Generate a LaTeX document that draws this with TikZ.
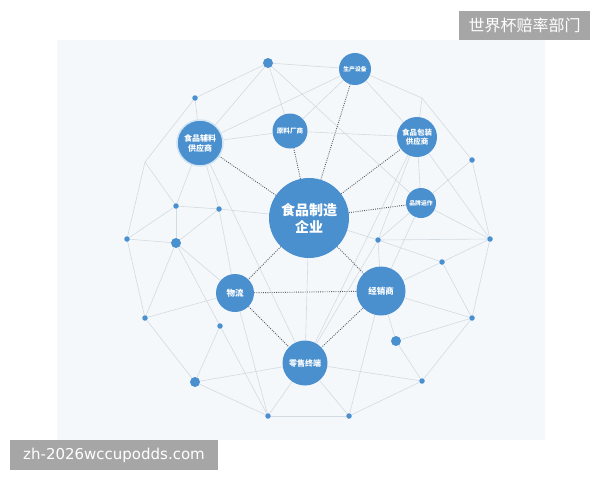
\documentclass[tikz,border=0pt]{standalone}
\usepackage{fontspec}
\newfontfamily\cjk{Noto Sans CJK SC}
\newfontfamily\latin{DejaVu Sans}
\usetikzlibrary{backgrounds}
\definecolor{nodeblue}{RGB}{74,144,207}
\definecolor{meshgray}{RGB}{210,218,226}
\definecolor{panelbg}{RGB}{245,248,251}
\definecolor{markgray}{RGB}{166,166,166}
\definecolor{dotline}{RGB}{85,90,98}
\pgfdeclarelayer{edges}
\pgfsetlayers{background,edges,main}
\begin{document}
\begin{tikzpicture}[x=1pt,y=-1pt,
  hub/.style={circle, fill=nodeblue, text=white, inner sep=0pt, align=center},
  dotsm/.style={circle, fill=nodeblue, inner sep=0pt, minimum size=5.5pt},
  dotbig/.style={circle, fill=nodeblue, inner sep=0pt, minimum size=10pt},
  mesh/.style={meshgray, line width=0.6pt},
  link/.style={dotline, line width=0.9pt, dash pattern=on 0.9pt off 1.3pt},
  tagbox/.style={fill=markgray, text=white, inner sep=0pt}]
\useasboundingbox (0,0) rectangle (600,480);
\begin{pgfonlayer}{background}
\fill[panelbg] (57,40) rectangle (545,440);
\end{pgfonlayer}
% main nodes
\node[hub, minimum size=80pt, font=\cjk\bfseries\fontsize{14}{17}\selectfont] (ent) at (309,218) {食品制造\\企业};
\node[hub, minimum size=46pt, draw=nodeblue!25, line width=1.5pt, font=\cjk\bfseries\fontsize{8}{10}\selectfont] (aux) at (200,143) {食品辅料\\供应商};
\node[hub, minimum size=35pt, font=\cjk\bfseries\fontsize{6.6}{8}\selectfont] (raw) at (290,131) {原料厂商};
\node[hub, minimum size=32pt, font=\cjk\bfseries\fontsize{5.8}{7}\selectfont] (equip) at (355,69) {生产设备};
\node[hub, minimum size=40pt, font=\cjk\bfseries\fontsize{7.5}{9.3}\selectfont] (pack) at (417,137) {食品包装\\供应商};
\node[hub, minimum size=30pt, font=\cjk\bfseries\fontsize{5.8}{7}\selectfont] (brand) at (421,203) {品牌运作};
\node[hub, minimum size=38pt, font=\cjk\bfseries\fontsize{8.5}{10}\selectfont] (logi) at (235,293) {物流};
\node[hub, minimum size=49pt, font=\cjk\bfseries\fontsize{8.5}{10}\selectfont] (dist) at (381,291) {经销商};
\node[hub, minimum size=45pt, font=\cjk\bfseries\fontsize{8}{10}\selectfont] (retail) at (305,363) {零售终端};
% small dots
\node[dotbig] (p1) at (268,63) {};
\node[dotsm] (p2) at (195,98) {};
\node[dotsm] (p3) at (176,206) {};
\node[dotsm] (p4) at (219,209) {};
\node[dotsm] (p5) at (127,239) {};
\node[dotbig] (p6) at (176,243) {};
\node[dotsm] (p7) at (378,240) {};
\node[dotsm] (p8) at (490,239) {};
\node[dotsm] (p9) at (472,160) {};
\node[dotsm] (p10) at (442,262) {};
\node[dotsm] (p11) at (472,318) {};
\node[dotsm] (p12) at (145,318) {};
\node[dotsm] (p13) at (220,326) {};
\node[dotbig] (p14) at (396,341) {};
\node[dotbig] (p15) at (195,382) {};
\node[dotsm] (p16) at (422,381) {};
\node[dotsm] (p17) at (268,416) {};
\node[dotsm] (p18) at (349,416) {};
\coordinate (v1) at (145,162);
\coordinate (v2) at (422,98);
% mesh lines
\begin{pgfonlayer}{edges}
\foreach \a/\b in {p1/equip, p1/p2, p1/aux, p1/raw, p1/brand, p2/aux, p2/v1, v1/p5, v1/p3,
  aux/raw, aux/equip, aux/p3, aux/p4, aux/retail, raw/equip, raw/pack,
  equip/pack, equip/v2, v2/pack, v2/p9, pack/brand, pack/p8, pack/p7, pack/retail,
  p9/brand, p9/p8, brand/p8, brand/p7, brand/dist,
  p3/p4, p3/p5, p3/p6, p4/p6, p4/ent, p4/logi, p5/p6, p5/p12, p6/p12, p6/logi, p6/p13,
  p12/logi, p12/p15, p13/p15, p13/p17, p15/retail, p15/p17, logi/p17, retail/p17, retail/p18, p17/p18,
  ent/retail, ent/p7, p7/p8, p7/p10, p7/dist, p7/retail, p10/p8, p10/dist, p10/p11, p8/p11,
  dist/p11, dist/p14, dist/p18, p11/p14, p11/p16, p14/p16, p16/p18, retail/p16}
  \draw[mesh] (\a) -- (\b);
% dotted links
\foreach \b in {aux, raw, equip, pack, brand, logi, dist}
  \draw[link] (ent) -- (\b);
\draw[link] (logi) -- (dist);
\draw[link] (logi) -- (retail);
\draw[link] (dist) -- (retail);
\end{pgfonlayer}
% watermarks
\node[tagbox, minimum width=131pt, minimum height=29pt, font=\cjk\fontsize{16}{16}\selectfont] (tag) at (524.5,25.5) {世界杯赔率部门};
\node[tagbox, minimum width=208pt, minimum height=30pt, font=\latin\fontsize{15}{15}\selectfont] (site) at (114,455) {zh-2026wccupodds.com};
\end{tikzpicture}
\end{document}
